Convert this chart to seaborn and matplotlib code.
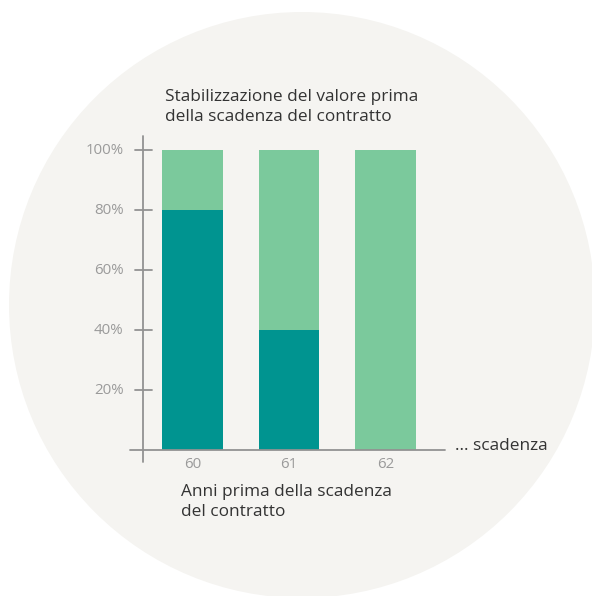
import matplotlib
matplotlib.use("Agg")
import matplotlib.pyplot as plt
from matplotlib.patches import Circle
import seaborn as sns

# dati
anni = ["60", "61", "62"]
quota_scura = [80, 40, 0]      # parte stabilizzata
quota_chiara = [20, 60, 100]   # resto fino al 100%
totale = [a + b for a, b in zip(quota_scura, quota_chiara)]
tick_y = [20, 40, 60, 80, 100]
tick_y_lbl = ["20%", "40%", "60%", "80%", "100%"]

sns.set_style("white")
plt.rcParams["font.family"] = ["Open Sans", "DejaVu Sans"]

col_scuro = "#009490"
col_chiaro = "#7bc99c"
col_asse = "#929292"
col_testo = "#333333"
col_tick = "#9a9a9a"

fig = plt.figure(figsize=(5.92, 5.96), dpi=100)
fig.patch.set_facecolor("white")

# cerchio di sfondo (coordinate in pixel)
fig.patches.append(Circle((302, 596 - 305), 293, transform=None,
                          facecolor="#f5f4f1", edgecolor="none", zorder=-10))

ax = fig.add_axes([124.95 / 592, (596 - 465) / 596, 328.1 / 592, 333 / 596])
ax.set_facecolor("none")
ax.set_zorder(1)

sns.barplot(x=anni, y=totale, color=col_chiaro, width=0.63, saturation=1,
            linewidth=0, ax=ax, zorder=2)
sns.barplot(x=anni, y=quota_scura, color=col_scuro, width=0.63, saturation=1,
            linewidth=0, ax=ax, zorder=3)

ax.set_xlim(-0.7, 2.7)
ax.set_ylim(-5, 106)
for s in ax.spines.values():
    s.set_visible(False)
ax.set_xticks([])
ax.set_yticks([])
ax.set_xlabel("")
ax.set_ylabel("")

# assi disegnati a mano
x0 = -0.515
ax.plot([x0, x0], [-4, 104.7], color=col_asse, lw=1.3, clip_on=False, zorder=4)
ax.plot([-0.65, 2.62], [0, 0], color=col_asse, lw=1.3, clip_on=False, zorder=4)
for v, lbl in zip(tick_y, tick_y_lbl):
    ax.plot([x0 - 0.085, x0 + 0.1], [v, v], color=col_asse, lw=1.3,
            clip_on=False, zorder=4)
    ax.text(x0 - 0.2, v, lbl, ha="right", va="center", fontsize=10.8,
            color=col_tick)
for i, a in enumerate(anni):
    ax.text(i, -2.5, a, ha="center", va="top", fontsize=10.8, color=col_tick)

ax.text(2.72, 1.5, "... scadenza", ha="left", va="center", fontsize=12.4,
        color=col_testo)

fig.text(165 / 592, 1 - 107 / 596, "Stabilizzazione del valore prima\ndella scadenza del contratto",
         ha="left", va="center", fontsize=12.4, color=col_testo, linespacing=1.4)
fig.text(181 / 592, 1 - 502 / 596, "Anni prima della scadenza\ndel contratto",
         ha="left", va="center", fontsize=12.4, color=col_testo, linespacing=1.4)

fig.savefig("out.png", dpi=100, facecolor="white")
